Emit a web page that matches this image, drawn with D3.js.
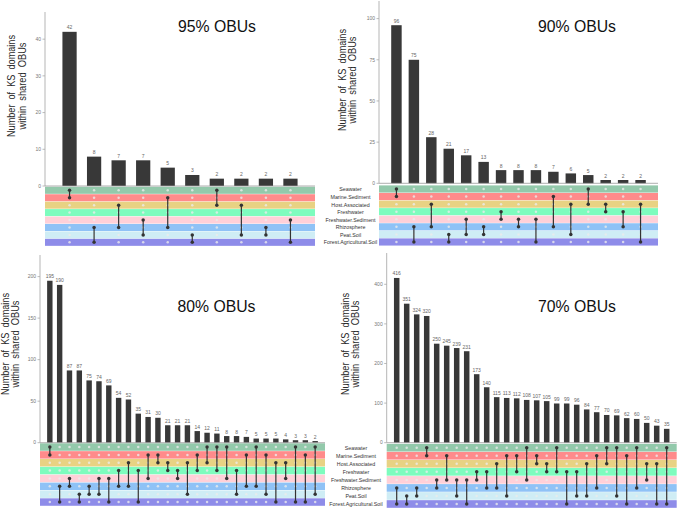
<!DOCTYPE html>
<html><head><meta charset="utf-8">
<script src="https://cdn.jsdelivr.net/npm/d3@7"></script>
<style>
html,body{margin:0;padding:0;background:#fff;}
svg{display:block;font-family:"Liberation Sans",Arial,sans-serif;}
</style></head>
<body><svg id="c" width="681" height="513"></svg>
<script>
// ---------- data ----------
const sets = ["Seawater","Marine.Sediment","Host.Associated","Freshwater","Freshwater.Sediment","Rhizosphere","Peat.Soil","Forest.Agricultural.Soil"];
const rowColors = ["#93c9ab","#ff8b8b","#e8d283","#7efcbe","#ffd0d8","#8fc2f6","#cfedf5","#8e8ce9"];

const titles = ["95% OBUs","90% OBUs","80% OBUs","70% OBUs"];
const yTitleLines = ["Number  of  KS  domains","within  shared  OBUs"];

const counts95 = [42,8,7,7,5,3,2,2,2,2];
const pairs95  = [[0,1],[5,7],[2,5],[4,6],[1,5],[6,7],[0,2],[2,6],[5,6],[4,7]];
const ticks95  = [0,10,20,30,40];

const counts90 = [96,75,28,21,17,13,8,8,8,7,6,5,2,2,2];
const pairs90  = [[0,1],[5,7],[2,5],[6,7],[4,6],[5,6],[3,4],[4,5],[4,7],[1,5],[2,6],[0,2],[2,3],[3,5],[2,7]];
const ticks90  = [0,25,50,75,100];

const counts80 = [195,190,87,87,75,74,69,54,52,35,31,30,21,21,21,14,12,11,8,8,7,5,5,5,4,3,3,2];
const pairs80  = [[0,1],[5,7],[4,5],[6,7],[5,6],[4,6],[4,7],[3,5],[2,5],[3,7],[1,4],[1,2],[2,3],[3,4],[2,6],[1,3],[0,2],[0,3],[0,4],[3,6],[1,5],[0,5],[1,6],[2,7],[2,4],[0,7],[1,7],[0,6]];
const ticks80  = [0,50,100,150,200];

const counts70 = [416,351,324,320,250,245,239,231,173,140,115,113,112,108,107,105,99,99,96,84,77,70,69,62,60,50,43,35];
const pairs70  = [[5,7],[6,7],[5,6],[0,1],[4,5],[1,4],[4,6],[4,7],[3,4],[3,5],[2,5],[1,6],[1,3],[0,4],[1,2],[2,3],[0,3],[3,7],[3,6],[2,6],[1,5],[0,2],[0,6],[1,7],[0,5],[2,4],[2,7],[0,7]];
const ticks70  = [0,100,200,300,400];

// ---------- layout (positions only) ----------
const layouts = [
  {left:45,  right:315,   base:186,   top:12,  ymax:47.4, mTop:186.6, rowH:7.43, tx:217, ty:31.5, yt:[11,22],  ytc:86,  barW:0.58},
  {left:379, right:658,   base:183.3, top:1,   ymax:110.7,mTop:185.2, rowH:7.57, tx:577, ty:31.5, yt:[342,352.5],ytc:80, barW:0.6},
  {left:40,  right:325,   base:442.7, top:255, ymax:226,  mTop:443.1, rowH:7.86, tx:216.5,ty:312, yt:[5,15.5], ytc:344, barW:0.55},
  {left:386.7,right:676.7,base:442.7, top:253, ymax:479,  mTop:443.7, rowH:8.04, tx:577, ty:312, yt:[345,355.5],ytc:344, barW:0.55}
];
const labelPos = [{x:350.5},{x:356}];
const yTitleLen = [102, 87];

const svg = d3.select("#c");

function drawPanel(L, counts, pairs, ticks, title){
  const g = svg.append("g");
  const n = counts.length;
  const x = d3.scaleLinear().domain([0, n+1]).range([L.left, L.right]);
  const y = d3.scaleLinear().domain([0, L.ymax]).range([L.base, L.top]);
  const step = x(1)-x(0);
  const rowY = i => L.mTop + (i+0.5)*L.rowH;

  g.selectAll("rect.band").data(sets).join("rect")
    .attr("x", L.left).attr("width", L.right-L.left)
    .attr("y", (d,i)=>L.mTop + i*L.rowH + 0.2).attr("height", L.rowH-0.4)
    .attr("fill", (d,i)=>rowColors[i]);

  g.selectAll("rect.bar").data(counts).join("rect")
    .attr("x", (d,i)=>x(i+1)-step*L.barW/2).attr("width", step*L.barW)
    .attr("y", d=>y(d)).attr("height", d=>L.base-y(d))
    .attr("fill","#383838");
  g.selectAll("text.val").data(counts).join("text")
    .attr("x",(d,i)=>x(i+1)).attr("y", d=>y(d)-2.5)
    .attr("text-anchor","middle").attr("font-size",5).attr("fill","#666")
    .text(d=>d);

  g.append("line").attr("x1",L.left).attr("x2",L.left).attr("y1",L.top).attr("y2",L.base)
    .attr("stroke","#b5b5b5").attr("stroke-width",1);
  g.append("line").attr("x1",L.left).attr("x2",L.right).attr("y1",L.base).attr("y2",L.base)
    .attr("stroke","#9a9a9a").attr("stroke-width",0.8);
  const tk = g.selectAll("g.tk").data(ticks).join("g").attr("transform",d=>`translate(0,${y(d)})`);
  tk.append("line").attr("x1",L.left-2.5).attr("x2",L.left).attr("stroke","#aaa").attr("stroke-width",0.8);
  tk.append("text").attr("x",L.left-4).attr("dy","0.35em").attr("text-anchor","end")
    .attr("font-size",5).attr("fill","#777").text(d=>d);

  const grid = [];
  counts.forEach((c,i)=>sets.forEach((s,j)=>grid.push({i,j})));
  g.selectAll("circle.e").data(grid).join("circle")
    .attr("cx",d=>x(d.i+1)).attr("cy",d=>rowY(d.j)).attr("r",1.25)
    .attr("fill","#ebebeb").attr("opacity",0.8);

  g.selectAll("line.lk").data(pairs).join("line")
    .attr("x1",(d,i)=>x(i+1)).attr("x2",(d,i)=>x(i+1))
    .attr("y1",d=>rowY(d[0])).attr("y2",d=>rowY(d[1]))
    .attr("stroke","#333").attr("stroke-width",1.2);
  const fill = [];
  pairs.forEach((p,i)=>p.forEach(j=>fill.push({i,j})));
  g.selectAll("circle.f").data(fill).join("circle")
    .attr("cx",d=>x(d.i+1)).attr("cy",d=>rowY(d.j)).attr("r",1.75).attr("fill","#333");

  g.append("text").attr("x",L.tx).attr("y",L.ty).attr("text-anchor","middle")
    .attr("font-size",17).attr("fill","#111")
    .attr("textLength",78).attr("lengthAdjust","spacingAndGlyphs").text(title);

  yTitleLines.forEach((t,k)=>{
    g.append("text").attr("transform",`translate(${L.yt[k]},${L.ytc}) rotate(-90)`)
      .attr("text-anchor","middle").attr("dy","0.35em").attr("font-size",11).attr("fill","#2a2a2a")
      .attr("textLength",yTitleLen[k]).attr("lengthAdjust","spacingAndGlyphs")
      .style("white-space","pre").text(t);
  });
  return rowY;
}

const r1 = drawPanel(layouts[0], counts95, pairs95, ticks95, titles[0]);
const r2 = drawPanel(layouts[1], counts90, pairs90, ticks90, titles[1]);
const r3 = drawPanel(layouts[2], counts80, pairs80, ticks80, titles[2]);
const r4 = drawPanel(layouts[3], counts70, pairs70, ticks70, titles[3]);

[[labelPos[0].x, r2, 0.6],[labelPos[1].x, r4, 0.4]].forEach(([lx, rowY, off])=>{
  svg.append("g").selectAll("text").data(sets).join("text")
    .attr("x", lx).attr("y",(d,i)=>rowY(i)+off).attr("dy","0.35em")
    .attr("text-anchor","middle").attr("font-size",5.3).attr("fill","#333")
    .text(d=>d);
});
</script></body></html>
